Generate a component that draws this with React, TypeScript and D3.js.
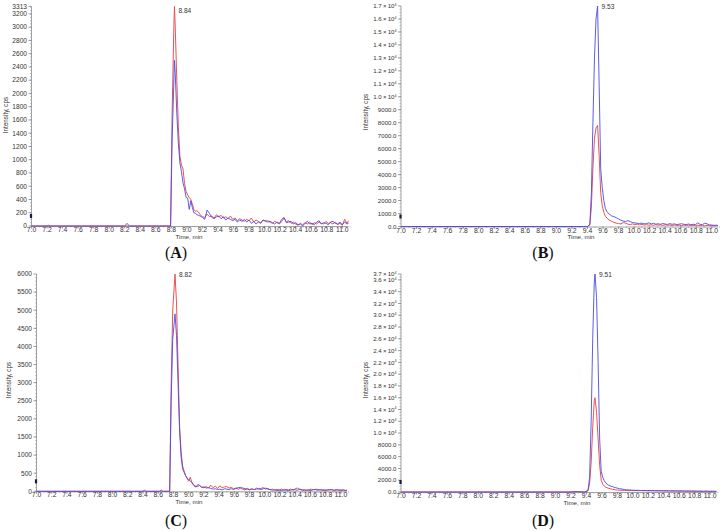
import React from "react";
import * as d3 from "d3";

// Panel A: retention time (min), red and blue traces (cps)
const timeA = [7.0, 7.2, 7.22, 7.24, 8.2, 8.23, 8.26, 8.79, 8.81, 8.83, 8.84, 8.85, 8.87, 8.89, 8.91, 8.93, 8.95, 8.97, 8.99, 9.01, 9.03, 9.05, 9.07, 9.09, 9.11, 9.13, 9.15, 9.17, 9.2, 9.23, 9.26, 9.29, 9.32, 9.35, 9.38, 9.41, 9.44, 9.47, 9.5, 9.53, 9.56, 9.59, 9.62, 9.65, 9.68, 9.71, 9.74, 9.77, 9.8, 9.83, 9.86, 9.89, 9.92, 9.95, 9.98, 10.01, 10.04, 10.07, 10.1, 10.13, 10.16, 10.19, 10.22, 10.25, 10.28, 10.31, 10.34, 10.37, 10.4, 10.43, 10.46, 10.49, 10.52, 10.55, 10.58, 10.61, 10.64, 10.67, 10.7, 10.73, 10.76, 10.79, 10.82, 10.85, 10.88, 10.91, 10.94, 10.97, 11.0, 11.03, 11.06, 11.08];
const redA = [0, 0, 12, 0, 0, 0, 0, 0, 1700, 2900, 3313, 3000, 2200, 1500, 1050, 920, 860, 640, 520, 470, 430, 400, 330, 250, 220, 230, 210, 170, 140, 130, 180, 140, 150, 120, 170, 140, 160, 120, 140, 110, 150, 100, 120, 80, 110, 90, 70, 100, 80, 120, 60, 90, 70, 50, 90, 70, 80, 60, 40, 70, 50, 30, 70, 120, 60, 80, 40, 60, 30, 10, 40, 20, 50, 30, 60, 20, 50, 30, 60, 40, 30, 70, 40, 50, 30, 60, 20, 40, 10, 100, 40, 80];
const blueA = [0, 0, 0, 0, 0, 40, 0, 0, 1300, 2100, 2500, 2300, 1700, 1250, 950, 820, 650, 560, 430, 420, 250, 380, 280, 200, 190, 170, 160, 150, 130, 100, 240, 190, 130, 110, 140, 150, 110, 140, 90, 120, 100, 80, 100, 60, 90, 70, 100, 60, 90, 40, 70, 30, 60, 40, 90, 80, 60, 70, 50, 30, 60, 40, 100, 130, 50, 60, 70, 30, 50, 20, 30, 0, 40, 70, 30, 40, 20, 60, 80, 30, 50, 40, 20, 60, 70, 40, 30, 60, 20, 60, 30, 40];

// Panel B
const timeB = [7.0, 9.4, 9.43, 9.45, 9.47, 9.49, 9.51, 9.53, 9.55, 9.57, 9.59, 9.61, 9.63, 9.65, 9.68, 9.71, 9.74, 9.77, 9.8, 9.83, 9.86, 9.89, 9.92, 9.95, 9.98, 10.01, 10.04, 10.07, 10.1, 10.13, 10.16, 10.19, 10.22, 10.25, 10.28, 10.31, 10.34, 10.37, 10.4, 10.43, 10.46, 10.49, 10.52, 10.55, 10.58, 10.61, 10.64, 10.67, 10.7, 10.73, 10.76, 10.79, 10.82, 10.85, 10.88, 10.91, 10.94, 10.97, 11.0, 11.03, 11.06, 11.08];
const redB = [0, 0, 100, 1500, 4500, 6800, 7600, 7800, 5500, 2600, 1600, 1100, 800, 650, 500, 400, 320, 260, 220, 200, 300, 260, 180, 150, 200, 150, 180, 120, 160, 110, 140, 100, 130, 90, 140, 100, 120, 80, 130, 90, 110, 70, 120, 80, 100, 60, 110, 80, 100, 60, 90, 70, 100, 60, 80, 50, 90, 60, 80, 50, 70, 40];
const blueB = [0, 0, 150, 2500, 8000, 13000, 16000, 17000, 11000, 4500, 3000, 2000, 1400, 1150, 950, 820, 760, 680, 580, 480, 420, 380, 450, 380, 300, 280, 250, 230, 260, 200, 230, 280, 200, 240, 180, 210, 170, 230, 190, 160, 220, 170, 200, 150, 180, 210, 170, 150, 190, 140, 170, 150, 280, 160, 140, 260, 200, 130, 110, 90, 100, 80];

// Panel C
const timeC = [7.0, 8.4, 8.42, 8.44, 8.62, 8.64, 8.66, 8.75, 8.77, 8.79, 8.82, 8.84, 8.86, 8.88, 8.9, 8.92, 8.94, 8.96, 8.98, 9.0, 9.02, 9.04, 9.06, 9.08, 9.1, 9.12, 9.14, 9.17, 9.2, 9.23, 9.26, 9.29, 9.32, 9.35, 9.38, 9.41, 9.44, 9.47, 9.5, 9.53, 9.56, 9.59, 9.62, 9.65, 9.68, 9.71, 9.74, 9.77, 9.8, 9.83, 9.86, 9.89, 9.92, 9.95, 9.98, 10.01, 10.04, 10.07, 10.1, 10.13, 10.16, 10.19, 10.22, 10.25, 10.28, 10.31, 10.34, 10.37, 10.4, 10.43, 10.46, 10.49, 10.52, 10.55, 10.58, 10.61, 10.64, 10.67, 10.7, 10.73, 10.76, 10.79, 10.82, 10.85, 10.88, 10.91, 10.94, 10.97, 11.0, 11.03, 11.06, 11.08];
const redC = [0, 0, 0, 0, 0, 0, 0, 0, 3000, 5000, 6000, 5200, 3500, 1800, 1100, 700, 560, 430, 350, 280, 390, 260, 200, 150, 140, 130, 160, 120, 100, 130, 90, 170, 100, 140, 80, 150, 100, 120, 130, 90, 110, 70, 90, 60, 80, 60, 40, 80, 50, 70, 40, 90, 50, 80, 100, 60, 80, 40, 60, 30, 50, 40, 60, 30, 50, 40, 60, 30, 70, 90, 50, 30, 50, 20, 40, 60, 40, 60, 50, 30, 50, 20, 40, 30, 50, 20, 30, 50, 20, 40, 30, 20];
const blueC = [0, 0, 30, 0, 0, 30, 0, 0, 2500, 4200, 4900, 4300, 3000, 1700, 950, 620, 520, 430, 360, 320, 290, 240, 180, 130, 120, 190, 170, 110, 120, 90, 100, 80, 60, 70, 50, 60, 40, 70, 60, 50, 70, 50, 80, 100, 110, 90, 70, 60, 40, 60, 50, 60, 80, 50, 70, 90, 60, 50, 30, 40, 20, 30, 20, 40, 30, 20, 30, 50, 40, 30, 60, 40, 20, 40, 30, 20, 50, 40, 30, 50, 20, 40, 30, 50, 40, 30, 50, 20, 40, 30, 20, 30];

// Panel D
const timeD = [7.0, 9.2, 9.25, 9.3, 9.38, 9.42, 9.44, 9.46, 9.48, 9.5, 9.51, 9.53, 9.55, 9.57, 9.59, 9.61, 9.63, 9.65, 9.68, 9.71, 9.74, 9.77, 9.8, 9.83, 9.86, 9.89, 9.92, 9.95, 9.98, 10.01, 10.04, 10.07, 10.1, 10.13, 10.16, 10.19, 10.22, 10.25, 10.28, 10.31, 10.34, 10.37, 10.4, 10.43, 10.46, 10.49, 10.52, 10.55, 10.58, 10.61, 10.64, 10.67, 10.7, 10.73, 10.76, 10.79, 10.82, 10.85, 10.88, 10.91, 10.94, 10.97, 11.0, 11.03, 11.06, 11.08];
const redD = [0, 0, 80, 40, 0, 200, 1500, 5000, 11000, 15500, 16000, 13500, 9000, 4500, 2000, 1300, 1000, 800, 650, 550, 450, 380, 320, 300, 280, 260, 250, 240, 260, 230, 250, 220, 240, 210, 230, 200, 220, 190, 210, 180, 200, 180, 190, 170, 180, 160, 180, 150, 170, 150, 160, 140, 160, 140, 150, 130, 140, 120, 140, 120, 130, 110, 120, 110, 100, 110];
const blueD = [0, 0, 60, 30, 0, 300, 2500, 12000, 26000, 35500, 37000, 33000, 22000, 9000, 3500, 2500, 1900, 1500, 1200, 1000, 900, 750, 650, 550, 500, 420, 380, 340, 320, 300, 280, 290, 260, 250, 270, 240, 230, 250, 220, 230, 210, 220, 200, 210, 190, 200, 180, 190, 170, 180, 160, 170, 150, 160, 140, 150, 130, 140, 130, 120, 140, 120, 110, 120, 110, 100];

// axis ticks
const xTicks = d3.range(0, 21).map((i) => 7 + i * 0.2);
const yTicksA = [0, 200, 400, 600, 800, 1000, 1200, 1400, 1600, 1800, 2000, 2200, 2400, 2600, 2800, 3000, 3200, 3313];
const yTicksB = [0, 1000, 2000, 3000, 4000, 5000, 6000, 7000, 8000, 9000, 10000, 11000, 12000, 13000, 14000, 15000, 16000, 17000];
const yTicksC = [0, 500, 1000, 1500, 2000, 2500, 3000, 3500, 4000, 4500, 5000, 5500, 6000];
const yTicksD = [0, 2000, 4000, 6000, 8000, 10000, 12000, 14000, 16000, 18000, 20000, 22000, 24000, 26000, 28000, 30000, 32000, 34000, 36000, 37000];

const RED = "#ec5252";
const BLUE = "#4b4be3";
const SANS = "Liberation Sans, Arial, sans-serif";

type Panel = {
  letter: string;
  time: number[];
  red: number[];
  blue: number[];
  yTicks: number[];
  yMax: number;
  minorStep: number;
  sci: boolean;
  peak: { t: number; v: number; label: string; dy: number };
  x0: number;
  pxPerMin: number;
  yBase: number;
  yTop: number;
  tickFont: number;
  timeLabelX: number;
  intensityLabel: [number, number];
  caption: [number, number];
};

const panels: Panel[] = [
  {
    letter: "A", time: timeA, red: redA, blue: blueA, yTicks: yTicksA, yMax: 3313, minorStep: 50, sci: false,
    peak: { t: 8.84, v: 3313, label: "8.84", dy: 7 },
    x0: 31.5, pxPerMin: 77.7, yBase: 226, yTop: 6.4, tickFont: 6.6, timeLabelX: 189,
    intensityLabel: [6, 115], caption: [176, 258],
  },
  {
    letter: "B", time: timeB, red: redB, blue: blueB, yTicks: yTicksB, yMax: 17000, minorStep: 250, sci: true,
    peak: { t: 9.53, v: 17000, label: "9.53", dy: 3 },
    x0: 401, pxPerMin: 77.7, yBase: 226.5, yTop: 6, tickFont: 6.1, timeLabelX: 581,
    intensityLabel: [366, 112], caption: [543, 258],
  },
  {
    letter: "C", time: timeC, red: redC, blue: blueC, yTicks: yTicksC, yMax: 6000, minorStep: 100, sci: false,
    peak: { t: 8.82, v: 6000, label: "8.82", dy: 2.6 },
    x0: 36.5, pxPerMin: 76.1, yBase: 491.3, yTop: 274, tickFont: 6.6, timeLabelX: 189,
    intensityLabel: [9, 380], caption: [176, 526],
  },
  {
    letter: "D", time: timeD, red: redD, blue: blueD, yTicks: yTicksD, yMax: 37000, minorStep: 500, sci: true,
    peak: { t: 9.51, v: 37000, label: "9.51", dy: 3.3 },
    x0: 401, pxPerMin: 77.3, yBase: 492, yTop: 274, tickFont: 6.1, timeLabelX: 577,
    intensityLabel: [366, 380], caption: [543, 526],
  },
];

function tickLabel(v: number, sci: boolean) {
  if (!sci) return <tspan>{String(v)}</tspan>;
  if (v >= 10000) {
    return (
      <>
        <tspan>{`${(v / 10000).toFixed(1)}\u2009×\u200910`}</tspan>
        <tspan dy={-2.2} fontSize="0.6em">4</tspan>
      </>
    );
  }
  return <tspan>{v.toFixed(1)}</tspan>;
}

function Chromatogram({ p }: { p: Panel }) {
  const x = d3.scaleLinear().domain([7, 11.08]).range([p.x0, p.x0 + 4.08 * p.pxPerMin]);
  const y = d3.scaleLinear().domain([0, p.yMax]).range([p.yBase, p.yTop]);
  const line = d3
    .line<number>()
    .x((_, i) => x(p.time[i]))
    .y((v) => y(v));
  const minorY = d3.range(0, p.yMax, p.minorStep);
  const minorX = d3.range(0, 42).map((i) => 7 + i * 0.1);

  return (
    <g>
      {/* y axis */}
      <line x1={p.x0} x2={p.x0} y1={p.yBase} y2={p.yTop} stroke="#8a8a8a" strokeWidth={0.8} />
      {minorY.map((v) => (
        <line key={"my" + v} x1={p.x0 - 1.5} x2={p.x0} y1={y(v)} y2={y(v)} stroke="#9a9a9a" strokeWidth={0.6} />
      ))}
      {p.yTicks.map((v) => (
        <g key={"y" + v}>
          <line x1={p.x0 - 3} x2={p.x0} y1={y(v)} y2={y(v)} stroke="#777" strokeWidth={0.7} />
          <text
            x={p.x0 - 4.5}
            y={y(v)}
            dy="0.35em"
            textAnchor="end"
            fontSize={p.tickFont}
            fontFamily={SANS}
            fill="#333"
          >
            {tickLabel(v, p.sci)}
          </text>
        </g>
      ))}
      {/* x axis */}
      <line x1={p.x0} x2={x(11.08)} y1={p.yBase + 0.5} y2={p.yBase + 0.5} stroke="#8a8a8a" strokeWidth={0.8} />
      {minorX.map((t, i) => (
        <line key={"mx" + i} x1={x(t)} x2={x(t)} y1={p.yBase} y2={p.yBase + 1.5} stroke="#9a9a9a" strokeWidth={0.6} />
      ))}
      {xTicks.map((t, i) => (
        <g key={"x" + i}>
          <line x1={x(t)} x2={x(t)} y1={p.yBase} y2={p.yBase + 2.5} stroke="#777" strokeWidth={0.7} />
          <text x={x(t)} y={p.yBase + 6} textAnchor="middle" fontSize={6.8} fontFamily={SANS} fill="#333">
            {t.toFixed(1)}
          </text>
        </g>
      ))}
      <text x={p.timeLabelX} y={p.yBase + 12.8} textAnchor="middle" fontSize={6.2} fontFamily={SANS} fill="#333">
        Time, min
      </text>
      <text
        transform={`translate(${p.intensityLabel[0]},${p.intensityLabel[1]}) rotate(-90)`}
        textAnchor="middle"
        dy="0.35em"
        fontSize={6.3}
        fontFamily={SANS}
        fill="#333"
      >
        Intensity, cps
      </text>
      {/* small marker on the y axis */}
      <rect x={p.x0 - 1.6} y={p.yBase - 12} width={2.2} height={4} fill="#1a1a40" />
      {/* traces */}
      <path d={line(p.red) || ""} fill="none" stroke={RED} strokeWidth={1} strokeLinejoin="round" />
      <path d={line(p.blue) || ""} fill="none" stroke={BLUE} strokeWidth={1} strokeOpacity={0.9} strokeLinejoin="round" />
      <text
        x={x(p.peak.t) + 4}
        y={y(p.peak.v) + p.peak.dy}
        fontSize={6.6}
        fontFamily={SANS}
        fill="#333"
      >
        {p.peak.label}
      </text>
      <text
        x={p.caption[0]}
        y={p.caption[1]}
        textAnchor="middle"
        fontSize={16}
        fontFamily="Liberation Serif, Times New Roman, serif"
        fill="#111"
      >
        (<tspan fontWeight="bold">{p.letter}</tspan>)
      </text>
    </g>
  );
}

export default function App() {
  return (
    <svg
      width={723}
      height={531}
      style={{ position: "absolute", left: 0, top: 0, background: "#fff" }}
    >
      {panels.map((p) => (
        <Chromatogram key={p.letter} p={p} />
      ))}
    </svg>
  );
}
